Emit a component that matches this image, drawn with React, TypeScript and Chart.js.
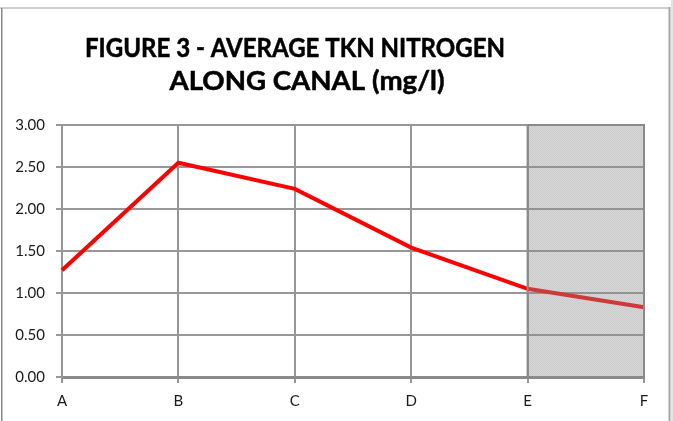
import React, { useEffect, useRef } from 'react';
import { Chart, registerables } from 'chart.js';

Chart.register(...registerables);

const categories = ['A', 'B', 'C', 'D', 'E', 'F'];
const tknValues = [1.27, 2.55, 2.24, 1.54, 1.05, 0.83];
const yTicks = [0, 0.5, 1, 1.5, 2, 2.5, 3];
const titleLines = ['FIGURE 3 - AVERAGE TKN NITROGEN', 'ALONG CANAL (mg/l)'];
const shadeFrom = 'E';
const shadeTo = 'F';

const W = 673;
const H = 421;

const bgPlugin = {
  id: 'bgWhite',
  beforeDraw(chart: any) {
    const { ctx } = chart;
    ctx.save();
    ctx.fillStyle = '#ffffff';
    ctx.fillRect(0, 0, chart.width, chart.height);
    ctx.restore();
  },
};

const shadePlugin = {
  id: 'shadeRegion',
  afterDatasetsDraw(chart: any) {
    const { ctx, chartArea } = chart;
    const x = chart.scales.x;
    const x0 = x.getPixelForValue(categories.indexOf(shadeFrom));
    const x1 = x.getPixelForValue(categories.indexOf(shadeTo));
    const pc = document.createElement('canvas');
    pc.width = 2;
    pc.height = 2;
    const p = pc.getContext('2d')!;
    p.fillStyle = 'rgba(140,140,140,0.36)';
    p.fillRect(0, 1, 1, 1);
    p.fillRect(1, 0, 1, 1);
    p.fillStyle = 'rgba(140,140,140,0.44)';
    p.fillRect(0, 0, 1, 1);
    p.fillRect(1, 1, 1, 1);
    ctx.save();
    ctx.fillStyle = ctx.createPattern(pc, 'repeat');
    ctx.fillRect(x0, chartArea.top, x1 - x0, chartArea.bottom - chartArea.top);
    ctx.strokeStyle = '#8a8a8a';
    ctx.lineWidth = 2;
    ctx.strokeRect(x0, chartArea.top, x1 - x0, chartArea.bottom - chartArea.top);
    ctx.restore();
  },
};

function drawFitted(ctx: any, text: string, cx: number, baseline: number, targetW: number) {
  const w = ctx.measureText(text).width;
  const sx = targetW / w;
  ctx.save();
  ctx.translate(cx - targetW / 2, baseline);
  ctx.scale(sx, 1);
  ctx.fillText(text, 0, 0);
  ctx.strokeText(text, 0, 0);
  ctx.restore();
}

const titlePlugin = {
  id: 'customTitle',
  afterDraw(chart: any) {
    const { ctx } = chart;
    ctx.save();
    ctx.fillStyle = '#000000';
    ctx.strokeStyle = '#000000';
    ctx.lineWidth = 0.5;
    ctx.lineJoin = 'round';
    ctx.font = 'bold 26px Lato, "Liberation Sans", Arial, sans-serif';
    ctx.textBaseline = 'alphabetic';
    ctx.textAlign = 'left';
    drawFitted(ctx, titleLines[0], 295, 57, 420);
    drawFitted(ctx, titleLines[1], 307, 90, 275);
    ctx.restore();
  },
};

const framePlugin = {
  id: 'frame',
  afterDraw(chart: any) {
    const { ctx } = chart;
    ctx.save();
    ctx.strokeStyle = '#cfcfcf';
    ctx.lineWidth = 2;
    ctx.beginPath();
    ctx.moveTo(0, 8);
    ctx.lineTo(669, 8);
    ctx.stroke();
    ctx.strokeStyle = '#8a8a8a';
    ctx.lineWidth = 1.5;
    ctx.beginPath();
    ctx.moveTo(1.75, 8);
    ctx.lineTo(1.75, H);
    ctx.stroke();
    ctx.strokeStyle = '#a6a6a6';
    ctx.lineWidth = 2;
    ctx.beginPath();
    ctx.moveTo(669.5, 7);
    ctx.lineTo(669.5, H);
    ctx.stroke();
    ctx.fillStyle = '#e4e4e4';
    ctx.fillRect(671, 0, 2, H);
    ctx.restore();
  },
};

export default function App() {
  const ref = useRef<HTMLCanvasElement | null>(null);

  useEffect(() => {
    if (!ref.current) return;
    const tickFont = { family: 'Lato, "Liberation Sans", Arial, sans-serif', size: 15 };
    const chart = new Chart(ref.current, {
      type: 'line',
      data: {
        labels: categories,
        datasets: [
          {
            label: 'TKN',
            data: tknValues,
            borderColor: '#ff0000',
            backgroundColor: '#ff0000',
            borderWidth: 4,
            pointRadius: 0,
            tension: 0,
            fill: false,
          },
        ],
      },
      options: {
        animation: false,
        responsive: false,
        devicePixelRatio: 1,
        layout: { padding: { top: 125, right: 29, left: 0, bottom: 0 } },
        plugins: {
          legend: { display: false },
          title: { display: false },
          tooltip: { enabled: false },
        },
        scales: {
          x: {
            offset: false,
            grid: {
              display: true,
              color: '#979797',
              lineWidth: 2,
              tickLength: 6,
              drawOnChartArea: true,
            },
            border: { display: true, color: '#8a8a8a', width: 3 },
            ticks: { color: '#1a1a1a', font: tickFont, padding: 9, maxRotation: 0, autoSkip: false },
            afterFit(scale: any) {
              scale.height = 44;
            },
          },
          y: {
            min: yTicks[0],
            max: yTicks[yTicks.length - 1],
            grid: {
              display: true,
              color: '#979797',
              lineWidth: 2,
              tickLength: 6,
            },
            border: { display: true, color: '#979797', width: 2 },
            ticks: {
              stepSize: yTicks[1] - yTicks[0],
              color: '#1a1a1a',
              font: tickFont,
              padding: 11,
              callback: (v: any) => Number(v).toFixed(2),
            },
            afterFit(scale: any) {
              scale.width = 62;
            },
          },
        },
      },
      plugins: [bgPlugin, shadePlugin, titlePlugin, framePlugin],
    });
    return () => chart.destroy();
  }, []);

  return (
    <div style={{ position: 'fixed', left: 0, top: 0, width: W, height: H, background: '#fff' }}>
      <canvas ref={ref} width={W} height={H} style={{ display: 'block', width: W, height: H }} />
    </div>
  );
}
